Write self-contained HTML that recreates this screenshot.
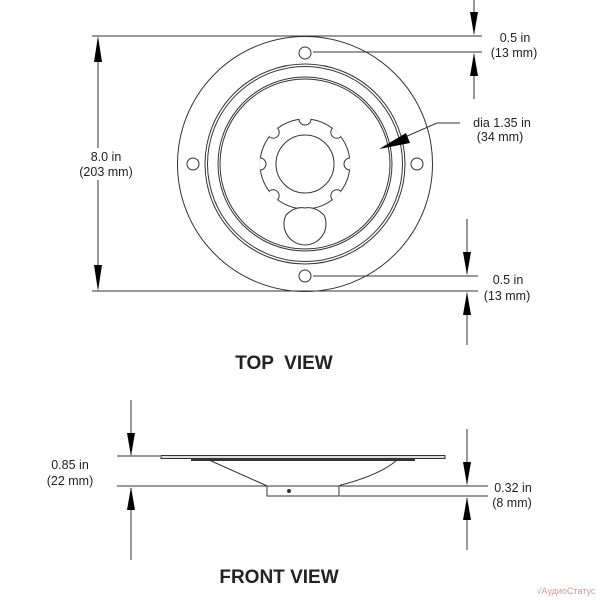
<!DOCTYPE html>
<html><head><style>body{margin:0;background:#fff}svg{display:block}text{font-family:"Liberation Sans",Arial,sans-serif;fill:#222}</style></head>
<body>
<svg width="600" height="600" viewBox="0 0 600 600" xmlns="http://www.w3.org/2000/svg">
<defs>
<clipPath id="g"><circle cx="305" cy="164" r="45.5"/></clipPath>
</defs>
<g stroke="#333" fill="none" stroke-width="1">
<circle cx="305" cy="164" r="127.5"/>
<circle cx="305" cy="164" r="100"/>
<circle cx="305" cy="164" r="97.5"/>
<circle cx="305" cy="164" r="87"/>
<circle cx="305" cy="164" r="85"/>
<circle cx="305" cy="164" r="45"/>
<g clip-path="url(#g)" fill="#fff">
<circle cx="350" cy="164" r="6"/><circle cx="260" cy="164" r="6"/>
<circle cx="305" cy="119" r="6"/>
<circle cx="336.8" cy="132.2" r="6"/><circle cx="273.2" cy="132.2" r="6"/>
<circle cx="336.8" cy="195.8" r="6"/><circle cx="273.2" cy="195.8" r="6"/>
</g>
<circle cx="305" cy="164" r="29"/>
<path d="M286,215 A21,21 0 1 0 324,215 Q315,206 305,208 Q295,206 286,215" fill="#fff"/>
<circle cx="305" cy="53" r="6"/><circle cx="305" cy="276" r="6"/>
<circle cx="193" cy="164" r="6"/><circle cx="417" cy="164" r="6"/>
<line x1="92" y1="36" x2="482" y2="36"/>
<line x1="92" y1="291" x2="478" y2="291"/>
<line x1="313" y1="52" x2="482" y2="52"/>
<line x1="313" y1="276" x2="478" y2="276"/>
<line x1="98" y1="40" x2="98" y2="287"/>
<line x1="474" y1="0" x2="474" y2="34"/>
<line x1="474" y1="54" x2="474" y2="99"/>
<line x1="467" y1="219" x2="467" y2="274"/>
<line x1="467" y1="293" x2="467" y2="345"/>
<line x1="437" y1="123" x2="460" y2="123"/>
<line x1="437" y1="123" x2="405" y2="137"/>
<line x1="117" y1="456" x2="160" y2="456"/>
<line x1="117" y1="486" x2="267" y2="486"/>
<line x1="340" y1="486" x2="488" y2="486"/>
<line x1="340" y1="496" x2="488" y2="496"/>
<rect x="161" y="455.5" width="284" height="3" fill="#ddd"/>
<line x1="191" y1="460" x2="415" y2="460" stroke-width="2"/>
<path d="M209,460 L265,485 L267,486 L267,496 L339,496 L339,486 L341,485 Q380,475 397,460"/>
<line x1="267" y1="486" x2="339" y2="486"/>
<circle cx="289" cy="491" r="1.5" fill="#333"/>
<line x1="131" y1="400" x2="131" y2="455"/>
<line x1="131" y1="488" x2="131" y2="560"/>
<line x1="467" y1="429" x2="467" y2="484"/>
<line x1="467" y1="498" x2="467" y2="550"/>
</g>
<g fill="#000">
<path d="M98,36 L94,62 L102,62 z"/><path d="M98,291 L94,265 L102,265 z"/>
<path d="M474,35 L470,12 L478,12 z"/><path d="M474,53 L470,76 L478,76 z"/>
<path d="M467,275 L463,252 L471,252 z"/><path d="M467,292 L463,315 L471,315 z"/>
<path d="M379,149 L406,133 L410,143 z"/>
<path d="M131,456 L127,433 L135,433 z"/><path d="M131,487 L127,510 L135,510 z"/>
<path d="M467,485 L463,462 L471,462 z"/><path d="M467,497 L463,520 L471,520 z"/>
</g>
<rect x="78" y="148" width="58" height="32" fill="#fff"/>
<g font-size="12.5" text-anchor="middle">
<text x="515" y="42">0.5 in</text><text x="514" y="57">(13 mm)</text>
<text x="502" y="127">dia 1.35 in</text><text x="500" y="141">(34 mm)</text>
<text x="508" y="284">0.5 in</text><text x="507" y="300">(13 mm)</text>
<text x="106" y="161">8.0 in</text><text x="106" y="176">(203 mm)</text>
<text x="70" y="469">0.85 in</text><text x="70" y="485">(22 mm)</text>
<text x="513" y="492">0.32 in</text><text x="512" y="507">(8 mm)</text>
</g>
<text x="284" y="369" font-size="19" font-weight="bold" text-anchor="middle" style="white-space:pre" xml:space="preserve">TOP  VIEW</text>
<text x="279" y="583" font-size="19" font-weight="bold" text-anchor="middle">FRONT VIEW</text>
<text x="566" y="594" font-size="9" style="fill:#c99" text-anchor="middle">√АудиоСтатус</text>
</svg>
</body></html>
